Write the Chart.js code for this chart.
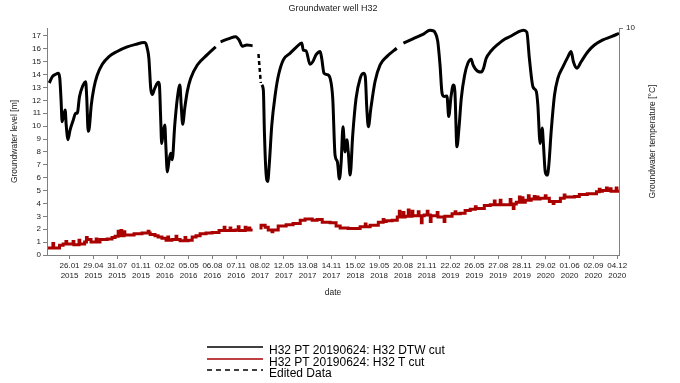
<!DOCTYPE html>
<html>
<head>
<meta charset="utf-8">
<script src="https://cdn.jsdelivr.net/npm/chart.js@4.4.0/dist/chart.umd.min.js"></script>
<style>
    html, body { margin: 0; padding: 0; background: #fff; }
    #wrap { position: relative; width: 680px; height: 383px; }
    #legend { position: absolute; left: 207px; top: 0; font: 12px 'Liberation Sans', Arial, sans-serif; color: #000; }
    .row { position: absolute; left: 0; height: 12px; line-height: 12px; white-space: nowrap; }
    .row svg { position: absolute; left: 0; top: 0; }
    .row span { position: absolute; left: 62px; top: 0; }
</style>
</head>
<body>
<div id="wrap">
    <canvas id="chart" width="680" height="383"></canvas>
    <div id="legend"></div>
</div>
<script>
const chartTitle = "Groundwater well H32";
const leftAxisTitle = "Groundwater level [m]";
const rightAxisTitle = "Groundwater temperature [°C]";
const seriesLabels = ["H32 PT 20190624: H32 DTW cut", "H32 PT 20190624: H32 T cut", "Edited Data"];
const xStart = "2014-10-30";
const xEnd = "2020-12-11";

const tickDates = [
    "2015-01-26", "2015-04-29", "2015-07-31", "2015-11-01", "2016-02-02", "2016-05-05",
    "2016-08-06", "2016-11-07", "2017-02-08", "2017-05-12", "2017-08-13", "2017-11-14",
    "2018-02-15", "2018-05-19", "2018-08-20", "2018-11-21", "2019-02-22", "2019-05-26",
    "2019-08-27", "2019-11-28", "2020-02-29", "2020-06-01", "2020-09-02", "2020-12-04"
];

// depth to water [m]
const dtwDates = [
    "2014-11-08", "2014-11-20", "2014-12-03", "2014-12-14", "2014-12-19", "2014-12-24", "2014-12-28",
    "2015-01-04", "2015-01-09", "2015-01-13", "2015-01-20", "2015-01-28", "2015-02-10", "2015-02-19",
    "2015-02-25", "2015-03-06", "2015-03-17", "2015-03-30", "2015-04-03", "2015-04-09", "2015-04-13",
    "2015-04-21", "2015-05-01", "2015-05-14", "2015-06-03", "2015-06-29", "2015-07-31", "2015-09-08",
    "2015-10-11", "2015-11-13", "2015-11-19", "2015-11-26", "2015-12-02", "2015-12-09", "2015-12-15",
    "2015-12-25", "2016-01-08", "2016-01-12", "2016-01-17", "2016-01-21", "2016-01-27", "2016-02-02",
    "2016-02-06", "2016-02-12", "2016-02-18", "2016-02-25", "2016-03-02", "2016-03-12", "2016-03-22",
    "2016-04-01", "2016-04-06", "2016-04-12", "2016-04-20", "2016-04-30", "2016-05-13", "2016-06-08",
    "2016-07-17", "2016-08-19", "2016-08-26", "2016-09-07", "2016-10-10", "2016-11-05", "2016-11-18",
    "2016-12-01", "2016-12-18", "2017-01-10", "2017-01-22", "2017-02-15", "2017-02-21", "2017-02-25",
    "2017-03-03", "2017-03-10", "2017-03-16", "2017-03-26", "2017-04-08", "2017-04-21", "2017-05-10",
    "2017-06-05", "2017-07-01", "2017-07-21", "2017-07-27", "2017-08-07", "2017-08-22", "2017-09-02",
    "2017-09-15", "2017-10-01", "2017-10-07", "2017-10-16", "2017-10-29", "2017-11-09", "2017-11-19",
    "2017-11-28", "2017-12-07", "2017-12-15", "2017-12-22", "2017-12-29", "2018-01-06", "2018-01-13",
    "2018-01-19", "2018-01-26", "2018-02-05", "2018-02-18", "2018-03-06", "2018-03-19", "2018-03-26",
    "2018-04-01", "2018-04-07", "2018-04-17", "2018-05-03", "2018-05-23", "2018-06-18", "2018-07-27",
    "2018-08-08", "2018-08-22", "2018-09-30", "2018-11-08", "2018-12-04", "2018-12-17", "2018-12-24",
    "2019-01-03", "2019-01-12", "2019-01-20", "2019-01-29", "2019-02-08", "2019-02-15", "2019-02-24",
    "2019-03-05", "2019-03-11", "2019-03-19", "2019-03-27", "2019-04-05", "2019-04-18", "2019-05-01",
    "2019-05-14", "2019-05-21", "2019-06-09", "2019-06-22", "2019-07-01", "2019-07-11", "2019-07-31",
    "2019-08-26", "2019-09-21", "2019-10-17", "2019-11-12", "2019-12-04", "2019-12-17", "2019-12-27",
    "2020-01-10", "2020-01-23", "2020-01-29", "2020-02-07", "2020-02-15", "2020-02-20", "2020-02-27",
    "2020-03-06", "2020-03-12", "2020-03-21", "2020-04-03", "2020-04-16", "2020-05-06", "2020-05-26",
    "2020-06-07", "2020-06-16", "2020-06-30", "2020-07-16", "2020-08-12", "2020-09-06", "2020-10-09",
    "2020-11-11", "2020-12-11"
];
const dtwLevels = [
    13.35, 13.85, 14.03, 14.1, 13.7, 12.0, 10.35,
    10.9, 11.25, 10.1, 8.95, 9.7, 10.5, 11.0,
    11.0, 12.3, 13.05, 13.45, 12.3, 9.6, 9.85,
    11.65, 12.95, 13.95, 14.8, 15.4, 15.8, 16.15,
    16.35, 16.5, 16.45, 16.0, 15.25, 12.95, 12.45,
    12.95, 13.4, 13.2, 10.6, 8.65, 9.55, 10.1,
    8.55, 6.45, 7.25, 7.9, 7.4, 10.1, 12.15,
    13.2, 11.65, 10.15, 11.4, 12.7, 13.7, 14.75,
    15.55, 16.15, null, 16.55, 16.8, 16.95, 16.7,
    16.2, 16.3, 16.25, null, 13.2, 12.8, 9.6,
    6.5, 5.7, 7.0, 10.1, 12.4, 13.95, 15.15,
    15.65, 16.15, 16.45, 15.9, 15.85, 14.8, 15.0,
    15.55, 15.8, 15.25, 14.1, 14.0, 13.7, 12.15,
    7.75, 7.25, 5.9, 7.25, 9.95, 8.0, 8.95,
    7.9, 6.2, 9.3, 12.15, 13.7, 14.1, 13.85,
    11.4, 9.95, 11.4, 13.45, 14.75, 15.4, 16.05,
    null, 16.45, 16.8, 17.15, 17.45, 17.4, 17.25,
    16.6, 14.75, 12.55, 12.3, 12.35, 10.75, 12.3,
    13.2, 12.7, 8.4, 9.85, 12.15, 13.95, 14.9,
    15.2, 14.75, 14.25, 14.2, 14.5, 15.25, 15.85,
    16.35, 16.75, 17.0, 17.3, 17.45, 17.3, 15.25,
    13.05, 12.7, 11.65, 8.65, 9.85, 8.55, 6.45,
    6.2, 7.0, 9.55, 12.4, 13.7, 14.6, 15.4,
    15.8, 15.0, 14.5, 15.0, 15.8, 16.3, 16.7,
    16.95, 17.2
];

// hand-edited stretch of the level record
const editedDates = ["2017-02-02", "2017-02-11"];
const editedLevels = [15.6, 13.35];

// temperature record, read against the left scale
const tempDates = [
    "2014-11-03", "2014-11-22", "2014-11-25", "2014-12-18", "2015-01-01", "2015-01-12", "2015-01-15",
    "2015-02-09", "2015-02-12", "2015-03-04", "2015-03-07", "2015-03-26", "2015-04-02", "2015-04-05",
    "2015-04-20", "2015-05-10", "2015-05-13", "2015-05-25", "2015-06-22", "2015-07-11", "2015-07-23",
    "2015-08-04", "2015-08-07", "2015-08-15", "2015-08-18", "2015-08-27", "2015-08-30", "2015-10-05",
    "2015-11-05", "2015-11-29", "2015-12-02", "2015-12-07", "2015-12-26", "2016-01-07", "2016-01-22",
    "2016-02-07", "2016-02-14", "2016-02-17", "2016-03-01", "2016-03-17", "2016-03-20", "2016-04-02",
    "2016-04-21", "2016-04-24", "2016-05-03", "2016-05-19", "2016-06-03", "2016-06-19", "2016-07-12",
    "2016-08-05", "2016-09-01", "2016-09-21", "2016-09-24", "2016-10-14", "2016-10-17", "2016-11-03",
    "2016-11-15", "2016-11-18", "2016-12-12", "2016-12-15", "2016-12-27", "2016-12-30", "2017-01-10",
    "2017-01-22", "2017-02-06", "2017-02-12", "2017-02-28", "2017-03-12", "2017-03-27", "2017-03-30",
    "2017-04-20", "2017-05-21", "2017-06-17", "2017-07-15", "2017-08-03", "2017-08-31", "2017-09-19",
    "2017-10-09", "2017-11-09", "2017-12-02", "2017-12-18", "2018-01-18", "2018-03-06", "2018-03-26",
    "2018-03-29", "2018-04-14", "2018-05-16", "2018-06-04", "2018-06-07", "2018-06-16", "2018-07-09",
    "2018-07-29", "2018-08-06", "2018-08-09", "2018-08-21", "2018-08-24", "2018-08-29", "2018-09-10",
    "2018-09-13", "2018-09-25", "2018-09-28", "2018-10-19", "2018-10-22", "2018-10-31", "2018-11-03",
    "2018-11-11", "2018-11-23", "2018-11-26", "2018-12-05", "2018-12-08", "2019-01-01", "2019-01-04",
    "2019-01-28", "2019-01-31", "2019-02-28", "2019-03-12", "2019-03-15", "2019-04-01", "2019-04-20",
    "2019-05-10", "2019-05-30", "2019-06-02", "2019-07-04", "2019-07-27", "2019-08-12", "2019-08-15",
    "2019-09-04", "2019-09-07", "2019-10-13", "2019-10-16", "2019-10-25", "2019-10-28", "2019-11-06",
    "2019-11-18", "2019-11-21", "2019-11-29", "2019-12-02", "2019-12-11", "2019-12-23", "2019-12-26",
    "2020-01-03", "2020-01-15", "2020-01-18", "2020-01-27", "2020-01-30", "2020-02-07", "2020-02-27",
    "2020-03-01", "2020-03-14", "2020-03-29", "2020-04-01", "2020-04-26", "2020-05-11", "2020-05-14",
    "2020-06-20", "2020-07-09", "2020-08-09", "2020-09-14", "2020-09-25", "2020-09-28", "2020-10-07",
    "2020-10-23", "2020-10-26", "2020-11-07", "2020-11-10", "2020-11-30", "2020-12-03", "2020-12-11"
];
const tempValues = [
    0.55, 0.9, 0.55, 0.75, 0.85, 1.05, 0.85,
    1.05, 0.8, 1.15, 0.85, 1.0, 1.35, 1.2,
    1.0, 1.25, 1.0, 1.2, 1.25, 1.35, 1.45,
    1.85, 1.5, 1.9, 1.5, 1.8, 1.55, 1.65,
    1.7, 1.85, 1.7, 1.6, 1.5, 1.4, 1.3,
    1.15, 1.4, 1.15, 1.2, 1.45, 1.2, 1.1,
    1.35, 1.1, 1.15, 1.4, 1.5, 1.65, 1.7,
    1.75, 1.9, 2.15, 1.9, 2.1, 1.9, 1.95,
    2.2, 1.9, 2.15, 1.95, 2.1, 1.95, 1.95,
    null, 2.1, 2.3, 2.15, 1.95, 1.8, 1.95,
    2.25, 2.35, 2.45, 2.7, 2.8, 2.7, 2.75,
    2.55, 2.5, 2.25, 2.1, 2.05, 2.2, 2.4,
    2.2, 2.3, 2.55, 2.75, 2.6, 2.65, 2.7,
    2.95, 3.4, 2.95, 3.3, 2.95, 3.0, 3.5,
    3.0, 3.4, 3.05, 3.35, 3.05, 2.5, 3.05,
    3.1, 3.4, 3.1, 2.6, 3.05, 3.3, 2.95,
    2.6, 3.0, 3.2, 3.35, 3.2, 3.25, 3.45,
    3.55, 3.75, 3.6, 3.85, 3.9, 4.2, 3.9,
    4.25, 3.9, 4.3, 3.95, 3.6, 3.95, 4.1,
    4.5, 4.1, 4.45, 4.1, 4.25, 4.6, 4.25,
    4.35, 4.55, 4.35, 4.5, 4.35, 4.4, 4.6,
    4.4, 4.15, 4.0, 4.15, 4.4, 4.65, 4.5,
    4.55, 4.7, 4.75, 4.9, 5.1, 4.95, 5.0,
    5.2, 5.0, 5.15, 4.95, 5.2, 4.95, 4.95
];

const toDay = s => Date.parse(s) / 864e5;
const points = (dates, values) => dates.map((d, i) => ({x: toDay(d), y: values[i]}));
const dateLabel = v => {
    const d = new Date(Math.round(v) * 864e5);
    const dd = String(d.getUTCDate()).padStart(2, "0");
    const mm = String(d.getUTCMonth() + 1).padStart(2, "0");
    return [dd + "." + mm, String(d.getUTCFullYear())];
};

const family = "'Liberation Sans', Arial, sans-serif";
const tickFont = {family: family, size: 8, lineHeight: 1.3};
const titleFont = {family: family, size: 8.5, weight: "normal"};
const textColor = "#222";
const axisColor = "#808080";

// right axis title reads bottom to top, like the left one
const rightTitle = {
    id: "rightTitle",
    afterDraw(chart) {
        const {ctx, chartArea, scales} = chart;
        ctx.save();
        ctx.translate(scales.y1.right - 27, (chartArea.top + chartArea.bottom) / 2);
        ctx.rotate(-Math.PI / 2);
        ctx.font = titleFont.size + "px " + family;
        ctx.fillStyle = textColor;
        ctx.textAlign = "center";
        ctx.textBaseline = "middle";
        ctx.fillText(rightAxisTitle, 0, 0);
        ctx.restore();
    },
};

const chart = new Chart(document.getElementById("chart"), {
    type: "line",
    data: {
        datasets: [
            {
                label: seriesLabels[0],
                data: points(dtwDates, dtwLevels),
                borderColor: "#000",
                borderWidth: 3,
                pointRadius: 0,
                cubicInterpolationMode: "monotone",
                spanGaps: false,
            },
            {
                label: seriesLabels[1],
                data: points(tempDates, tempValues),
                borderColor: "#aa0000",
                borderWidth: 3,
                pointRadius: 0,
                stepped: true,
                spanGaps: false,
            },
            {
                label: seriesLabels[2],
                data: points(editedDates, editedLevels),
                borderColor: "#000",
                borderWidth: 2.5,
                borderDash: [4, 3],
                pointRadius: 0,
            },
        ],
    },
    options: {
        responsive: false,
        animation: false,
        devicePixelRatio: 1,
        layout: { padding: { left: 0, right: 0, top: 0, bottom: 85 } },
        plugins: {
            legend: { display: false },
            tooltip: { enabled: false },
            title: {
                display: true,
                text: chartTitle,
                font: {family: family, size: 9, weight: "normal"},
                color: textColor,
                fullSize: false,
                padding: { top: 3, bottom: 14.2 },
            },
        },
        scales: {
            x: {
                type: "linear",
                min: toDay(xStart),
                max: toDay(xEnd),
                afterBuildTicks: scale => { scale.ticks = tickDates.map(d => ({ value: toDay(d) })); },
                afterFit: scale => { scale.height = 43; },
                ticks: { autoSkip: false, maxRotation: 0, font: tickFont, color: textColor, padding: 1.5, callback: v => dateLabel(v) },
                grid: { drawOnChartArea: false, tickLength: 4, color: axisColor },
                border: { color: axisColor },
                title: { display: true, text: "date", font: titleFont, color: textColor, padding: 0 },
            },
            y: {
                min: 0,
                max: 17.62,
                afterFit: scale => { scale.width = 47; },
                ticks: { stepSize: 1, includeBounds: false, autoSkip: false, font: tickFont, color: textColor, padding: 2 },
                grid: { drawOnChartArea: false, tickLength: 4, color: axisColor },
                border: { color: axisColor },
                title: { display: true, text: leftAxisTitle, font: titleFont, color: textColor, padding: { top: 9.8, bottom: 0 } },
            },
            y1: {
                display: true,
                position: "right",
                min: 0,
                max: 10,
                afterBuildTicks: scale => { scale.ticks = [{ value: 10 }]; },
                afterFit: scale => { scale.width = 61; },
                ticks: { font: tickFont, color: textColor, padding: 3 },
                grid: { drawOnChartArea: false, tickLength: 4, color: axisColor },
                border: { color: axisColor },
                title: { display: false },
            },
        },
    },
    plugins: [rightTitle],
});

// legend under the plot, one entry per line
const legendTops = [344, 355.5, 366.5];
const legend = document.getElementById("legend");
chart.data.datasets.forEach((ds, i) => {
    const dash = ds.borderDash ? ' stroke-dasharray="5,4"' : "";
    const row = document.createElement("div");
    row.className = "row";
    row.style.top = legendTops[i] + "px";
    row.innerHTML = '<svg width="56" height="6"><line x1="0" y1="3" x2="56" y2="3" stroke="' + ds.borderColor +
        '" stroke-width="1.6"' + dash + '/></svg><span>' + ds.label + "</span>";
    legend.appendChild(row);
});
</script>
</body>
</html>
